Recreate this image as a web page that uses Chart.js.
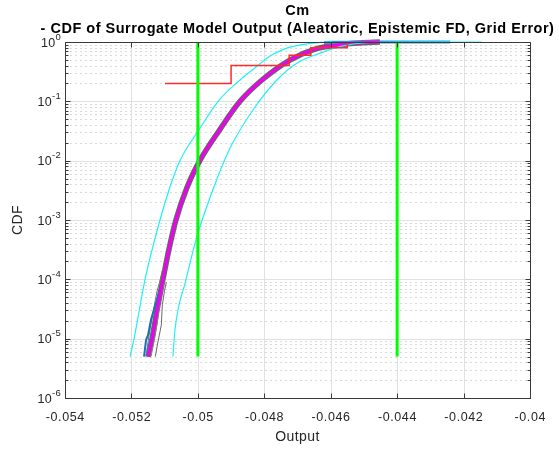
<!DOCTYPE html>
<html>
<head>
<meta charset="utf-8">
<script src="https://cdn.jsdelivr.net/npm/chart.js@4.4.1/dist/chart.umd.min.js"></script>
<style>
  html, body { margin: 0; padding: 0; background: #fff; }
  #wrap { width: 559px; height: 450px; }
</style>
</head>
<body>
<div id="wrap"><canvas id="cdf" width="559" height="450"></canvas></div>
<script>
// text
const titleLines = ['Cm', '- CDF of Surrogate Model Output (Aleatoric, Epistemic FD, Grid Error)'];
const xAxisLabel = 'Output';
const yAxisLabel = 'CDF';

// axes
const xTicks = [-0.054, -0.052, -0.05, -0.048, -0.046, -0.044, -0.042, -0.04];
const xTickLabels = ['-0.054', '-0.052', '-0.05', '-0.048', '-0.046', '-0.044', '-0.042', '-0.04'];
const yDecades = [-6, -5, -4, -3, -2, -1, 0];

// mean CDF of the surrogate output
const meanX = [-0.0515, -0.05138, -0.05123, -0.05105, -0.05087, -0.05066, -0.05033, -0.04994,
  -0.04936, -0.04873, -0.04807, -0.04723, -0.04647, -0.04557, -0.04512, -0.04452];
const meanP = [5e-6, 1e-5, 3e-5, 1e-4, 3.2e-4, 1e-3, 3.5e-3, 1e-2,
  3.2e-2, 0.1, 0.229, 0.497, 0.76, 0.92, 0.965, 1.0];

// epistemic samples, lower tails where they leave the mean curve
const grayAX = [-0.05156, -0.05147, -0.05138, -0.05128, -0.05122, -0.05116, -0.05107];
const grayAP = [5e-6, 1.15e-5, 2.2e-5, 4.5e-5, 6.6e-5, 8.7e-5, 1.4e-4];
const grayBX = [-0.05141, -0.05131, -0.05122, -0.05116, -0.05107, -0.05101];
const grayBP = [5e-6, 9.5e-6, 1.9e-5, 3.7e-5, 6.6e-5, 9.0e-5];
const grayCX = [-0.05128, -0.05122, -0.0511, -0.05107, -0.05101, -0.05095];
const grayCP = [5e-6, 7.8e-6, 1.7e-5, 3.7e-5, 6.1e-5, 9.0e-5];
const blueAX = [-0.05162, -0.05156, -0.0515, -0.05141, -0.05128, -0.05119, -0.0511];
const blueAP = [5e-6, 9.5e-6, 1.15e-5, 2.1e-5, 3.7e-5, 5.4e-5, 8.0e-5];
const blueBX = [-0.05153, -0.05147, -0.05138, -0.05131, -0.05122, -0.05113];
const blueBP = [5e-6, 7.8e-6, 1.25e-5, 1.7e-5, 3.0e-5, 4.8e-5];
const blueTopX = [-0.0462, -0.0455, -0.0447, -0.0437, -0.0424];
const blueTopP = [0.985, 0.993, 0.997, 0.999, 1.0];

// grid-error bounds
const boundLoX = [-0.05204, -0.05192, -0.05159, -0.05114, -0.05084, -0.05054, -0.04997, -0.04939,
  -0.04885, -0.04822, -0.04783, -0.04732, -0.04686, -0.04644, -0.04596];
const boundLoP = [5e-6, 1e-5, 1e-4, 1e-3, 3.6e-3, 1e-2, 3.3e-2, 0.1,
  0.2, 0.39, 0.58, 0.79, 0.9, 0.97, 1.0];
const boundHiX = [-0.05075, -0.05069, -0.05036, -0.05003, -0.04957, -0.04903, -0.04834, -0.04762,
  -0.04701, -0.04632, -0.04563, -0.04482, -0.0433, -0.04145];
const boundHiP = [5e-6, 1.4e-5, 9.7e-5, 5.2e-4, 3.0e-3, 0.0163, 0.0714, 0.229,
  0.443, 0.65, 0.86, 0.98, 0.997, 1.0];

// empirical CDF of the 5 samples
const sampleX = [-0.05099, -0.0490, -0.04725, -0.0466, -0.0455];
const sampleP = [0.2, 0.4, 0.6, 0.8, 1.0];

// vertical limit lines
const limitX = [-0.05, -0.044];
const limitP = [5e-6, 1.0];

const FONT = '"Liberation Sans", Arial, Helvetica, sans-serif';
const pts = (xs, ps) => xs.map((x, i) => ({x: x, y: ps[i]}));

function seg(ctx, x1, y1, x2, y2) {
  ctx.beginPath();
  ctx.moveTo(x1, y1);
  ctx.lineTo(x2, y2);
  ctx.stroke();
}

// MATLAB-like axes: grid, box, inside ticks, 10^n labels, titles
const matlabAxes = {
  id: 'matlabAxes',
  beforeDatasetsDraw(chart) {
    const {ctx, chartArea: a, scales: {x, y}} = chart;
    ctx.save();
    ctx.lineWidth = 1;
    ctx.strokeStyle = '#dadada';
    ctx.setLineDash([2, 3]);
    yDecades.slice(0, -1).forEach(e => {
      for (let k = 2; k <= 9; k++) {
        const py = Math.round(y.getPixelForValue(k * Math.pow(10, e))) + 0.5;
        seg(ctx, a.left, py, a.right, py);
      }
    });
    ctx.setLineDash([]);
    ctx.strokeStyle = '#e1e1e1';
    xTicks.forEach(v => {
      const px = Math.round(x.getPixelForValue(v)) + 0.5;
      seg(ctx, px, a.top, px, a.bottom);
    });
    yDecades.forEach(e => {
      const py = Math.round(y.getPixelForValue(Math.pow(10, e))) + 0.5;
      seg(ctx, a.left, py, a.right, py);
    });
    ctx.restore();
  },
  afterDatasetsDraw(chart) {
    const {ctx, chartArea: a, scales: {x, y}} = chart;
    const L = Math.round(a.left) + 0.5, R = Math.round(a.right) + 0.5;
    const T = Math.round(a.top) + 0.5, B = Math.round(a.bottom) + 0.5;
    const cx = (a.left + a.right) / 2;
    ctx.save();
    ctx.strokeStyle = '#3a3a3a';
    ctx.lineWidth = 1;
    ctx.strokeRect(L, T, R - L, B - T);

    // ticks
    xTicks.forEach(v => {
      const px = Math.round(x.getPixelForValue(v)) + 0.5;
      seg(ctx, px, B, px, B - 5);
      seg(ctx, px, T, px, T + 5);
    });
    yDecades.forEach(e => {
      const py = Math.round(y.getPixelForValue(Math.pow(10, e))) + 0.5;
      seg(ctx, L, py, L + 5, py);
      seg(ctx, R, py, R - 5, py);
      if (e === 0) return;
      for (let k = 2; k <= 9; k++) {
        const my = Math.round(y.getPixelForValue(k * Math.pow(10, e))) + 0.5;
        seg(ctx, L, my, L + 3, my);
        seg(ctx, R, my, R - 3, my);
      }
    });

    // tick labels
    ctx.fillStyle = '#262626';
    ctx.font = '12.5px ' + FONT;
    ctx.textAlign = 'center';
    ctx.textBaseline = 'alphabetic';
    ctx.letterSpacing = '0.6px';
    xTicks.forEach((v, i) => {
      ctx.fillText(xTickLabels[i], x.getPixelForValue(v) + 0.3, 421);
    });
    ctx.letterSpacing = '0.3px';
    ctx.textAlign = 'left';
    yDecades.forEach(e => {
      const py = y.getPixelForValue(Math.pow(10, e));
      const ex = String(e);
      ctx.font = '9.5px ' + FONT;
      const ew = ctx.measureText(ex).width;
      ctx.font = '12.5px ' + FONT;
      const bw = ctx.measureText('10').width;
      const right = 61;
      ctx.fillText('10', right - ew - bw, py + 4.5);
      ctx.font = '9.5px ' + FONT;
      ctx.fillText(ex, right - ew, py - 2.5);
    });

    // axis labels
    ctx.font = '14px ' + FONT;
    ctx.letterSpacing = '0.4px';
    ctx.textAlign = 'center';
    ctx.fillText(xAxisLabel, cx, 441);
    ctx.save();
    ctx.translate(18, (a.top + a.bottom) / 2);
    ctx.rotate(-Math.PI / 2);
    ctx.textBaseline = 'middle';
    ctx.fillText(yAxisLabel, 0, 0);
    ctx.restore();

    // title
    ctx.fillStyle = '#000';
    ctx.font = 'bold 14.5px ' + FONT;
    ctx.letterSpacing = '0.5px';
    ctx.fillText(titleLines[0], cx, 15);
    ctx.fillText(titleLines[1], cx, 33);
    ctx.restore();
  }
};

const line = (data, color, width, order, extra) => Object.assign({
  data: data,
  borderColor: color,
  borderWidth: width,
  pointRadius: 0,
  tension: 0,
  fill: false,
  order: order
}, extra || {});
const smooth = {cubicInterpolationMode: 'monotone', clip: false};

new Chart(document.getElementById('cdf'), {
  type: 'line',
  data: {
    datasets: [
      line(pts([limitX[0], limitX[0]], limitP), '#00ff00', 3, 0),
      line(pts([limitX[1], limitX[1]], limitP), '#00ff00', 3, 0),
      line(pts(sampleX, sampleP), '#ff2a2a', 1.5, 1, {stepped: true, clip: 4}),
      line(pts(boundLoX, boundLoP), '#1ef0f8', 1.2, 2, smooth),
      line(pts(boundHiX, boundHiP), '#1ef0f8', 1.2, 2, smooth),
      line(pts(meanX, meanP), '#f000f0', 3, 3, smooth),
      line(pts(blueAX, blueAP), '#1c6fb8', 2, 4),
      line(pts(blueBX, blueBP), '#2a7cc4', 1.5, 4),
      line(pts(blueTopX, blueTopP), '#2a9ad8', 3, 4, smooth),
      line(pts(grayAX, grayAP), '#707070', 1, 5),
      line(pts(grayBX, grayBP), '#808080', 1, 5),
      line(pts(grayCX, grayCP), '#6a6a6a', 1, 5),
      line(pts(meanX, meanP), '#666666', 5.5, 6, smooth)
    ]
  },
  options: {
    responsive: false,
    animation: false,
    events: [],
    layout: {padding: {left: 65, right: 29, top: 42, bottom: 52}},
    plugins: {legend: {display: false}, tooltip: {enabled: false}, title: {display: false}},
    scales: {
      x: {type: 'linear', min: -0.054, max: -0.04, display: false},
      y: {type: 'logarithmic', min: 1e-6, max: 1, display: false}
    }
  },
  plugins: [matlabAxes]
});
</script>
</body>
</html>
